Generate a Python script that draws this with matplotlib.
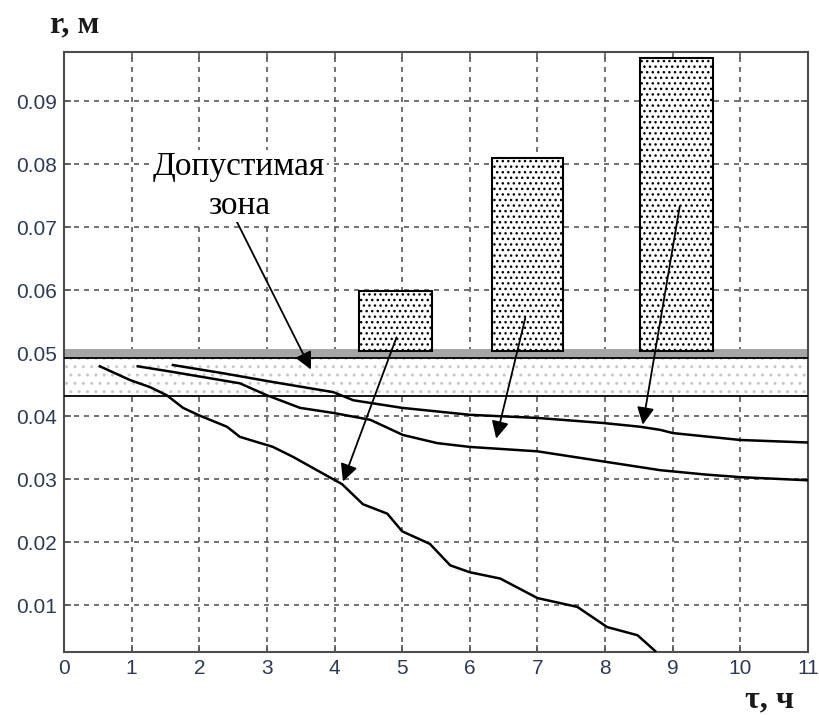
import matplotlib
matplotlib.use('Agg')
import matplotlib.pyplot as plt

# curves r(tau)
tau_a = [0.53, 0.98, 1.27, 1.52, 1.76, 2.0, 2.41, 2.6, 3.09, 3.39, 3.74, 4.11, 4.42, 4.78,
         5.0, 5.41, 5.71, 6.0, 6.45, 7.0, 7.59, 8.03, 8.48, 8.74]
r_a = [0.0479, 0.0457, 0.0446, 0.0433, 0.0413, 0.0401, 0.0383, 0.0367, 0.0351, 0.0335, 0.0314,
       0.0292, 0.0260, 0.0245, 0.0217, 0.0197, 0.0163, 0.0152, 0.0142, 0.0111, 0.0097, 0.0065,
       0.0052, 0.0027]

tau_b = [1.09, 1.61, 2.6, 3.0, 3.49, 3.98, 4.53, 5.01, 5.52, 6.0, 7.0, 7.97, 8.82, 9.5, 10.0, 11.0]
r_b = [0.0479, 0.0470, 0.0452, 0.0433, 0.0413, 0.0405, 0.0394, 0.0370, 0.0357, 0.0351, 0.0344,
       0.0328, 0.0314, 0.0307, 0.0303, 0.0298]

tau_c = [1.61, 2.35, 3.09, 3.98, 4.28, 5.0, 6.0, 7.0, 7.97, 8.52, 8.82, 9.0, 10.0, 11.0]
r_c = [0.0481, 0.0468, 0.0454, 0.0438, 0.0425, 0.0413, 0.0402, 0.0397, 0.0389, 0.0383, 0.0378,
       0.0373, 0.0362, 0.0358]

# bars (prediction ranges)
bar_x = [4.9, 6.85, 9.06]
bar_w = [1.07, 1.05, 1.08]
bar_top = [0.0598, 0.0810, 0.0968]
bar_bottom = 0.0503

# allowed zone
zone_lo = 0.0432
zone_hi = 0.0492
gray_hi = 0.0506

# arrows: (start x, start y, tip x, tip y)
arrows = [(2.53, 0.0714, 3.67, 0.0470),
          (4.93, 0.0529, 4.11, 0.0292),
          (6.83, 0.0560, 6.38, 0.0360),
          (9.11, 0.0737, 8.55, 0.0382)]

fig = plt.figure(figsize=(8.2, 7.15), dpi=100)
ax = fig.add_axes([64/820, 1-652/715, 744/820, 600/715])

ax.set_xlim(0, 11)
ax.set_ylim(0.00254, 0.0978)
ax.set_xticks(range(0, 12))
ax.set_yticks([0.01, 0.02, 0.03, 0.04, 0.05, 0.06, 0.07, 0.08, 0.09])
ax.set_yticklabels(['0.01', '0.02', '0.03', '0.04', '0.05', '0.06', '0.07', '0.08', '0.09'])
ax.grid(True, color='0.35', linestyle=(0, (3, 3)), linewidth=1.2)
ax.set_axisbelow(True)
ax.tick_params(direction='in', length=5, width=1.2, color='0.35', top=True, right=True,
               labelsize=15, labelcolor='#2e3a55', pad=5)
for lab in ax.get_xticklabels() + ax.get_yticklabels():
    lab.set_family('Liberation Sans')
for s in ax.spines.values():
    s.set_color('0.3')
    s.set_linewidth(1.5)

# zone
ax.axhspan(zone_hi, gray_hi, color='0.65', lw=0, zorder=2)
ax.fill_between([0, 11], zone_lo, zone_hi, facecolor='white', edgecolor='0.78', hatch='..',
                lw=0, zorder=2)
ax.axhline(zone_hi, color='black', lw=1.3, zorder=3)
ax.axhline(zone_lo, color='black', lw=1.3, zorder=3)

# bars
for x, w, t in zip(bar_x, bar_w, bar_top):
    ax.bar(x, t - bar_bottom, w, bottom=bar_bottom, facecolor='white', edgecolor='black',
           hatch='...', lw=1.5, zorder=3)

# curves
for t, r in [(tau_a, r_a), (tau_b, r_b), (tau_c, r_c)]:
    ax.plot(t, r, color='black', lw=1.8, zorder=4)

for x0, y0, x1, y1 in arrows:
    ax.annotate('', xy=(x1, y1), xytext=(x0, y0),
                arrowprops=dict(arrowstyle='-|>', color='black', lw=1.3, mutation_scale=26),
                zorder=5)

ax.text(2.59, 0.0765, 'Допустимая\nзона', ha='center', va='center', fontsize=24,
        family='Liberation Serif', linespacing=1.35, zorder=6,
        bbox=dict(facecolor='white', edgecolor='none', pad=1))

fig.text(75/820, 1-25/715, 'r, м', ha='center', va='center', fontsize=23,
         family='Liberation Serif', weight='bold', color='#1a1a1a')
fig.text(770/820, 1-700/715, 'τ, ч', ha='center', va='center', fontsize=23,
         family='Liberation Serif', weight='bold', color='#1a1a1a')

fig.savefig('out.png', dpi=100)
